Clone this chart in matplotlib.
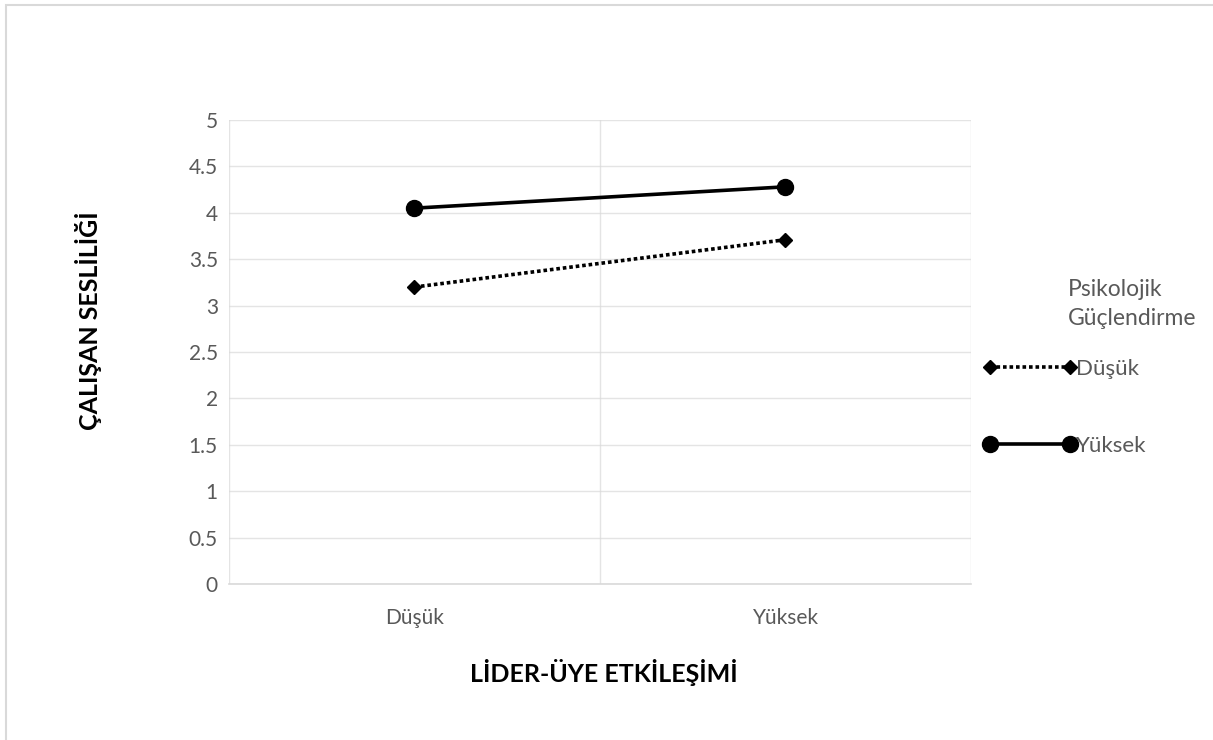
import matplotlib.pyplot as plt
import matplotlib.patches as mpatches

# Data
categories = ["Düşük", "Yüksek"]
series_names = ["Düşük", "Yüksek"]
low_pg = [3.20, 3.71]
high_pg = [4.05, 4.28]
y_ticks = [0, 0.5, 1, 1.5, 2, 2.5, 3, 3.5, 4, 4.5, 5]

plt.rcParams.update({
    "font.family": ["Lato", "DejaVu Sans"],
    "font.size": 15,
})

GRID = "#d9d9d9"
TXT = "#595959"

fig = plt.figure(figsize=(12.13, 7.40), dpi=100)
ax = fig.add_axes([229 / 1213, 1 - 584 / 740, 742 / 1213, 464 / 740])

x = list(range(len(categories)))
ax.plot(x, low_pg, color="black", linestyle=(0, (1, 0.8)), linewidth=2.6,
        marker="D", markersize=7.5, label=series_names[0])
ax.plot(x, high_pg, color="black", linestyle="-", linewidth=2.6,
        marker="o", markersize=11.5, label=series_names[1])

ax.set_xlim(-0.5, 1.5)
ax.set_ylim(0, 5)
ax.set_xticks(x)
ax.set_xticklabels(categories, color=TXT)
ax.set_yticks(y_ticks)
ax.set_yticklabels([f"{v:g}" for v in y_ticks], color=TXT)
ax.set_xticks([-0.5, 0.5, 1.5], minor=True)
ax.tick_params(axis="both", which="both", length=0)
ax.tick_params(axis="x", pad=17)
ax.tick_params(axis="y", pad=8)
ax.grid(axis="y", which="major", color=GRID, linewidth=1, alpha=0.7)
ax.grid(axis="x", which="minor", color=GRID, linewidth=1, alpha=0.7)
for side in ["top", "right", "left"]:
    ax.spines[side].set_visible(False)
ax.spines["bottom"].set_color(GRID)
ax.spines["bottom"].set_linewidth(1.2)

fig.text(88 / 1213, 1 - 321 / 740, "ÇALIŞAN SESLİLİĞİ", rotation=90,
         ha="center", va="center", fontsize=18, fontweight="bold")
fig.text(604 / 1213, 1 - 673 / 740, "LİDER-ÜYE ETKİLEŞİMİ",
         ha="center", va="center", fontsize=18, fontweight="bold")

# legend
fig.text(1068 / 1213, 1 - 304 / 740, "Psikolojik\nGüçlendirme", ha="left",
         va="center", color=TXT, fontsize=16.5, linespacing=1.45)
leg = fig.legend(loc="upper left", bbox_to_anchor=(972 / 1213, 1 - 348 / 740),
                 frameon=False, handlelength=4.2, handletextpad=0.0,
                 labelspacing=2.55, fontsize=16, borderpad=0, numpoints=2)
for t in leg.get_texts():
    t.set_color(TXT)

# outer chart border
fig.patches.append(mpatches.Rectangle((6 / 1213, -0.1), 1.2, 1.1 - 5 / 740,
                                      transform=fig.transFigure, fill=False,
                                      edgecolor=GRID, linewidth=1.5))

fig.savefig("out.png", dpi=100)
